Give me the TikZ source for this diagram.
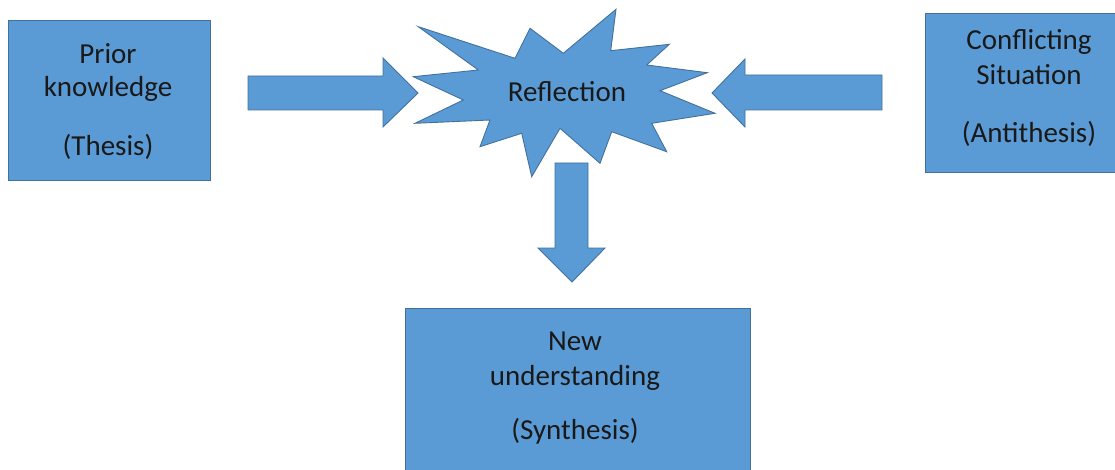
\documentclass[tikz,border=0pt]{standalone}
\usepackage{fontspec}
\setmainfont{Carlito}
\definecolor{blockfill}{HTML}{5B9BD5}
\definecolor{blockline}{HTML}{41719C}
\begin{document}
\begin{tikzpicture}[x=1pt,y=-1pt,
  block/.style={draw=blockline,fill=blockfill,line width=0.9pt},
  txt/.style={anchor=base,inner sep=0pt,text=black!90,font=\fontsize{29}{34}\selectfont}]
\useasboundingbox (0,0) rectangle (1115,470);

% boxes
\draw[block] (8,20) rectangle (210,180);
\draw[block] (925,13) rectangle (1125,172);
\draw[block] (405,308) rectangle (750,475);

% explosion shape
\draw[block,line join=miter] (418.3,26.7) -- (515,58.3) -- (530,28.3) -- (563.3,53.3)
  -- (616,9.3) -- (610.7,50.7) -- (669.3,44.3) -- (646.7,65) -- (707.3,72.7)
  -- (660,90.7) -- (715,113.3) -- (651.7,123.3) -- (666.7,151.7) -- (611.7,131.7)
  -- (600,163.3) -- (560,128.3) -- (531.7,176.7) -- (521.7,133.3) -- (480,146.7)
  -- (490,120) -- (415,123.3) -- (463.3,100) -- (413.3,76.7) -- (478.3,70) -- cycle;

% block arrows
\draw[block] (248,76) -- (383,76) -- (383,58) -- (418,93) -- (383,127) -- (383,110) -- (248,110) -- cycle;
\draw[block] (882,75) -- (745,75) -- (745,59) -- (712,93) -- (745,127) -- (745,110) -- (882,110) -- cycle;
\draw[block] (555,163) -- (588,163) -- (588,248) -- (605,248) -- (572,282) -- (538,248) -- (555,248) -- cycle;

% labels
\node[txt] (thesisA) at (108,64) {Prior};
\node[txt] (thesisB) at (108,97) {knowledge};
\node[txt] (thesisC) at (108,156) {(Thesis)};
\node[txt] (antiA) at (1029,50) {Conflicting};
\node[txt] (antiB) at (1029,85) {Situation};
\node[txt] (antiC) at (1029,143) {(Antithesis)};
\node[txt] (synA) at (575,350) {New};
\node[txt] (synB) at (575,385) {understanding};
\node[txt] (synC) at (575,439) {(Synthesis)};
\node[txt] (refl) at (567,102) {Reflection};
\end{tikzpicture}
\end{document}
